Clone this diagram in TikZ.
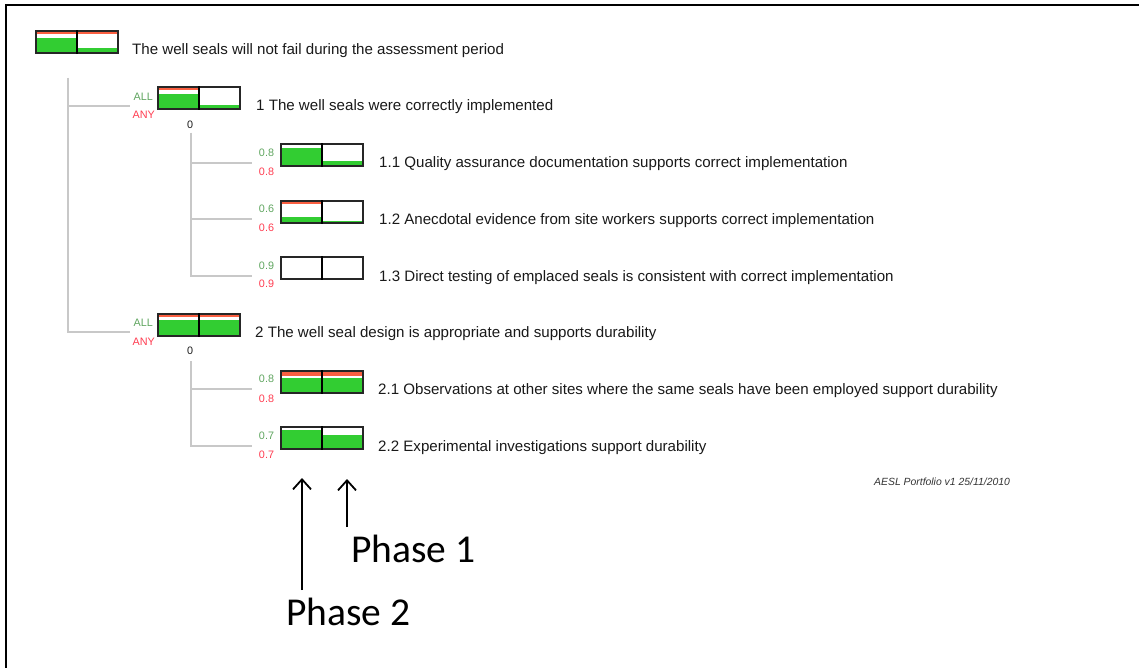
\documentclass[tikz,border=0pt]{standalone}
\usepackage{fontspec}
\setmainfont{Liberation Sans}
\newfontfamily\phasefont{Carlito}
\usetikzlibrary{arrows.meta}
\definecolor{bargreen}{RGB}{50,205,50}
\definecolor{barred}{RGB}{250,95,65}
\definecolor{lblgreen}{RGB}{95,165,95}
\definecolor{lblred}{RGB}{255,60,80}
\definecolor{treegray}{RGB}{200,200,200}
\definecolor{txt}{RGB}{25,25,25}
\newcommand{\scorebar}[7]{%
  \fill[barred] (#2,#3) rectangle (#2+41,#3+#4);
  \fill[bargreen] (#2,#3+#5) rectangle (#2+41,#3+22);
  \fill[barred] (#2+41,#3) rectangle (#2+82,#3+#6);
  \fill[bargreen] (#2+41,#3+#7) rectangle (#2+82,#3+22);
  \node[scorebox] (#1) at (#2+41,#3+11) {};
  \draw[divline] (#1.north) -- (#1.south);
}
\begin{document}
\begin{tikzpicture}[x=1pt,y=-1pt,
  scorebox/.style={draw=black!85,line width=1.2pt,minimum width=82pt,minimum height=22pt,inner sep=0pt},
  divline/.style={draw=black,line width=1.1pt},
  maintext/.style={anchor=base west,inner sep=0pt,font=\fontsize{15.1}{18}\selectfont,text=txt},
  small/.style={inner sep=0pt,font=\fontsize{10.8}{12}\selectfont},
  tree/.style={draw=treegray,line width=1.4pt},
  phase/.style={anchor=base west,inner sep=0pt,font=\phasefont\fontsize{39.5}{44}\selectfont},
  parrow/.style={line width=1.8pt,-{Straight Barb[length=10pt,width=18pt,line width=1.8pt]}}]
\useasboundingbox (0,0) rectangle (1139,668);
\draw[line width=2pt] (5.5,668) -- (5.5,5) -- (1139,5);
% bars
\scorebar{b0}{36}{31}{3}{7}{3}{17}
\scorebar{b1}{158}{87}{3}{7}{0}{18}
\scorebar{b11}{281}{144}{0}{4}{0}{17}
\scorebar{b12}{281}{201}{3}{16}{0}{20}
\scorebar{b13}{281}{257}{0}{22}{0}{22}
\scorebar{b2}{158}{314}{3}{5.5}{3}{5.5}
\scorebar{b21}{281}{371}{4.5}{7}{4.5}{7}
\scorebar{b22}{281}{427}{0}{3}{0}{8}
% texts
\node[maintext] (t0) at (132,55) {The well seals will not fail during the assessment period};
\node[maintext] (t1) at (256,111) {1 The well seals were correctly implemented};
\node[maintext] (t11) at (379,168) {1.1 Quality assurance documentation supports correct implementation};
\node[maintext] (t12) at (379,225) {1.2 Anecdotal evidence from site workers supports correct implementation};
\node[maintext] (t13) at (379,281) {1.3 Direct testing of emplaced seals is consistent with correct implementation};
\node[maintext] (t2) at (255,337) {2 The well seal design is appropriate and supports durability};
\node[maintext] (t21) at (378,394) {2.1 Observations at other sites where the same seals have been employed support durability};
\node[maintext] (t22) at (378,451) {2.2 Experimental investigations support durability};
% small labels
\node[small,text=lblgreen,anchor=east] (all1) at (153,97) {ALL};
\node[small,text=lblred,anchor=east] (any1) at (155,115) {ANY};
\node[small,text=txt] (z1) at (190,125) {0};
\node[small,text=lblgreen,anchor=east] (all2) at (153,323) {ALL};
\node[small,text=lblred,anchor=east] (any2) at (155,342) {ANY};
\node[small,text=txt] (z2) at (190,351) {0};
\node[small,text=lblgreen] (g11) at (266.5,153) {0.8};
\node[small,text=lblred] (r11) at (266.5,172) {0.8};
\node[small,text=lblgreen] (g12) at (266.5,209) {0.6};
\node[small,text=lblred] (r12) at (266.5,228) {0.6};
\node[small,text=lblgreen] (g13) at (266.5,266) {0.9};
\node[small,text=lblred] (r13) at (266.5,284) {0.9};
\node[small,text=lblgreen] (g21) at (266.5,379) {0.8};
\node[small,text=lblred] (r21) at (266.5,399) {0.8};
\node[small,text=lblgreen] (g22) at (266.5,436) {0.7};
\node[small,text=lblred] (r22) at (266.5,455) {0.7};
% tree
\coordinate (s0) at (68,78);
\coordinate (j1) at (130,106);
\coordinate (j2) at (130,332);
\draw[tree] (s0) |- (j1);
\draw[tree] (s0) |- (j2);
\coordinate (s1) at (191,133);
\coordinate (j11) at (252,163);
\coordinate (j12) at (252,219);
\coordinate (j13) at (252,276);
\draw[tree] (s1) |- (j11);
\draw[tree] (s1) |- (j12);
\draw[tree] (s1) |- (j13);
\coordinate (s2) at (191,361);
\coordinate (j21) at (252,389);
\coordinate (j22) at (252,446);
\draw[tree] (s2) |- (j21);
\draw[tree] (s2) |- (j22);
% footer
\node[inner sep=0pt,anchor=west,font=\itshape\fontsize{10.4}{12}\selectfont,text=black!80] (foot) at (874,481.5) {AESL Portfolio v1 25/11/2010};
% phases
\node[phase] (p1) at (351,562.5) {Phase 1};
\node[phase] (p2) at (286,625.5) {Phase 2};
\coordinate (a1) at (347,479);
\coordinate (a2) at (302,478);
\coordinate (a1s) at (347,527);
\coordinate (a2s) at (302,590);
\draw[parrow] (a1s) -- (a1);
\draw[parrow] (a2s) -- (a2);
\end{tikzpicture}
\end{document}
